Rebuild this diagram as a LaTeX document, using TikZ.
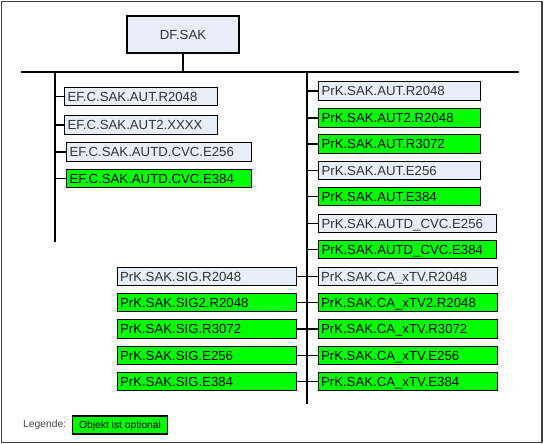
\documentclass[tikz,border=0pt]{standalone}
\usepackage{fontspec}
\setmainfont{Liberation Sans}
\definecolor{objlight}{RGB}{232,238,247}
\definecolor{objopt}{RGB}{0,255,0}
\begin{document}
\begin{tikzpicture}[x=1pt,y=-1pt,
    obj/.style={draw, line width=1.1pt, anchor=west, minimum height=18.5pt,
      inner xsep=3pt, inner ysep=0pt, text height=9.5pt, text depth=0pt,
      align=left, font=\fontsize{13.2}{15}\selectfont},
    must/.style={obj, fill=objlight, text=black!80},
    opt/.style={obj, fill=objopt, text=black},
    link/.style={line width=1.1pt}]
        \useasboundingbox (0,0) rectangle (544,444);

        % Frame
        \draw[line width=1.5pt, black!75] (1.5,1.5) rectangle (542,442.5);

        % Root
        \node[draw, line width=1.1pt, fill=objlight, text=black!80, minimum width=112pt,
          minimum height=37pt, font=\fontsize{13.2}{15}\selectfont] (dfsak) at (183,34.5) {DF.SAK};

        % Bus and trunks
        \coordinate (busl) at (21,72);
        \coordinate (busr) at (519,72);
        \coordinate (ltop) at (55,72);
        \coordinate (lbot) at (55,242);
        \coordinate (rtop) at (307,72);
        \coordinate (rbot) at (307,404);
        \draw[link] (dfsak) -- (dfsak |- busl);
        \draw[link] (busl) -- (busr);
        \draw[link] (ltop) -- (lbot);
        \draw[link] (rtop) -- (rbot);

        % Left column
        \node[must, text width=147pt] (efaut) at (64,96.5) {EF.C.SAK.AUT.R2048};
        \node[must, text width=147pt] (efautz) at (64,125) {EF.C.SAK.AUT2.XXXX};
        \node[must, text width=179pt] (efcvce) at (66,152) {EF.C.SAK.AUTD.CVC.E256};
        \node[opt, text width=179pt] (efcvcf) at (66,178.5) {EF.C.SAK.AUTD.CVC.E384};

        % Right column
        \node[must, text width=156pt] (autr) at (318,91) {PrK.SAK.AUT.R2048};
        \node[opt, text width=156pt] (autzr) at (318,118) {PrK.SAK.AUT2.R2048};
        \node[opt, text width=156pt] (autrt) at (318,144) {PrK.SAK.AUT.R3072};
        \node[must, text width=156pt] (aute) at (318,170.5) {PrK.SAK.AUT.E256};
        \node[opt, text width=156pt] (autf) at (318,196.5) {PrK.SAK.AUT.E384};
        \node[must, text width=172pt] (cvce) at (318,223.5) {PrK.SAK.AUTD\_CVC.E256};
        \node[opt, text width=172pt] (cvcf) at (318,249.5) {PrK.SAK.AUTD\_CVC.E384};

        % Signature keys
        \node[must, text width=173.5pt] (sigr) at (116.5,276.5) {PrK.SAK.SIG.R2048};
        \node[opt, text width=173.5pt] (sigzr) at (116.5,302.5) {PrK.SAK.SIG2.R2048};
        \node[opt, text width=173.5pt] (sigrt) at (116.5,329) {PrK.SAK.SIG.R3072};
        \node[opt, text width=173.5pt] (sige) at (116.5,355.5) {PrK.SAK.SIG.E256};
        \node[opt, text width=173.5pt] (sigf) at (116.5,381.5) {PrK.SAK.SIG.E384};

        % CA keys
        \node[must, text width=173.5pt] (car) at (317.5,276.5) {PrK.SAK.CA\_xTV.R2048};
        \node[opt, text width=173.5pt] (cazr) at (317.5,302.5) {PrK.SAK.CA\_xTV2.R2048};
        \node[opt, text width=173.5pt] (cart) at (317.5,329) {PrK.SAK.CA\_xTV.R3072};
        \node[opt, text width=173.5pt] (cae) at (317.5,355.5) {PrK.SAK.CA\_xTV.E256};
        \node[opt, text width=173.5pt] (caf) at (317.5,381.5) {PrK.SAK.CA\_xTV.E384};

        % Stubs
        \draw[link] (efaut.west) -- (efaut.west -| ltop);
        \draw[link] (efautz.west) -- (efautz.west -| ltop);
        \draw[link] (efcvce.west) -- (efcvce.west -| ltop);
        \draw[link] (efcvcf.west) -- (efcvcf.west -| ltop);
        \draw[link] (autr.west) -- (autr.west -| rtop);
        \draw[link] (autzr.west) -- (autzr.west -| rtop);
        \draw[link] (autrt.west) -- (autrt.west -| rtop);
        \draw[link] (aute.west) -- (aute.west -| rtop);
        \draw[link] (autf.west) -- (autf.west -| rtop);
        \draw[link] (cvce.west) -- (cvce.west -| rtop);
        \draw[link] (cvcf.west) -- (cvcf.west -| rtop);
        \draw[link] (sigr.east) -- (car.west);
        \draw[link] (sigzr.east) -- (cazr.west);
        \draw[link] (sigrt.east) -- (cart.west);
        \draw[link] (sige.east) -- (cae.west);
        \draw[link] (sigf.east) -- (caf.west);

        % Legend
        \node[anchor=west, inner sep=0pt, text=black!75, font=\fontsize{10.3}{12}\selectfont] (legende) at (23,425) {Legende:};
        \node[draw, line width=1.1pt, fill=objopt, anchor=west, minimum width=95pt, minimum height=18pt,
          inner sep=0pt, text height=7.4pt, text depth=0pt, font=\fontsize{10.3}{12}\selectfont] (legopt) at (72,425) {Objekt ist optional};
\end{tikzpicture}
\end{document}
